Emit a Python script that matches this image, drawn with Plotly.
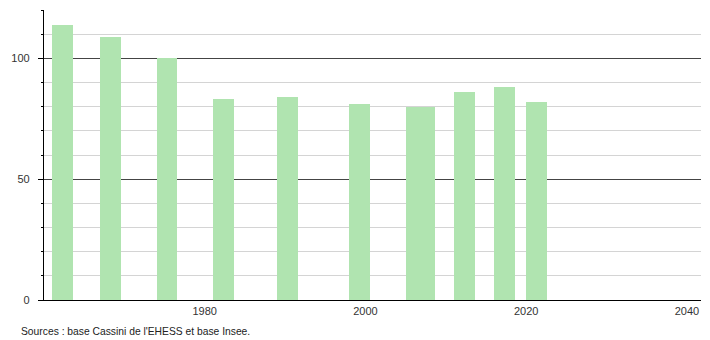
import plotly.graph_objects as go

years = [1962, 1968, 1975, 1982, 1990, 1999, 2006, 2007, 2012, 2017, 2021]
values = [114, 109, 100, 83, 84, 81, 80, 80, 86, 88, 82]
x_tick_vals = [1980, 2000, 2020, 2040]
y_tick_vals = [0, 50, 100]
source_text = "Sources : base Cassini de l'EHESS et base Insee."

fig = go.Figure()
fig.add_trace(go.Bar(
    x=years, y=values,
    width=2.6, offset=-1.0,
    marker=dict(color="#b0e4b0", line=dict(width=0)),
    hoverinfo="x+y",
))

font = dict(family="Liberation Sans, Arial, sans-serif", size=11, color="#333333")

fig.update_layout(
    width=710, height=340,
    margin=dict(l=44, r=9, t=10, b=40),
    plot_bgcolor="white", paper_bgcolor="white",
    showlegend=False,
    font=font,
    bargap=0,
    xaxis=dict(
        range=[1960, 2041.75],
        tickvals=x_tick_vals,
        ticks="",
        showgrid=False,
        zeroline=False,
        showline=True, linecolor="#000000", linewidth=1.3,
        tickfont=font,
        ticklabelstandoff=1,
    ),
    yaxis=dict(
        range=[0, 120],
        tickvals=y_tick_vals,
        ticks="outside", ticklen=5, tickcolor="#000000", tickwidth=1,
        showgrid=True, gridcolor="#444444", gridwidth=1,
        zeroline=False,
        showline=True, linecolor="#000000", linewidth=1.3,
        tickfont=font,
        ticklabelstandoff=6,
        minor=dict(dtick=10, tick0=0, ticks="outside", ticklen=2,
                   tickcolor="#000000", showgrid=True,
                   gridcolor="#d4d4d4", gridwidth=1),
    ),
    annotations=[dict(
        text=source_text, xref="paper", yref="paper",
        x=20/710 - 44/657, y=0, xanchor="left", yanchor="top",
        yshift=-24, showarrow=False,
        font=dict(family="Liberation Sans, Arial, sans-serif", size=10.3, color="#222222"),
    )],
)

fig.write_html("out.html")
